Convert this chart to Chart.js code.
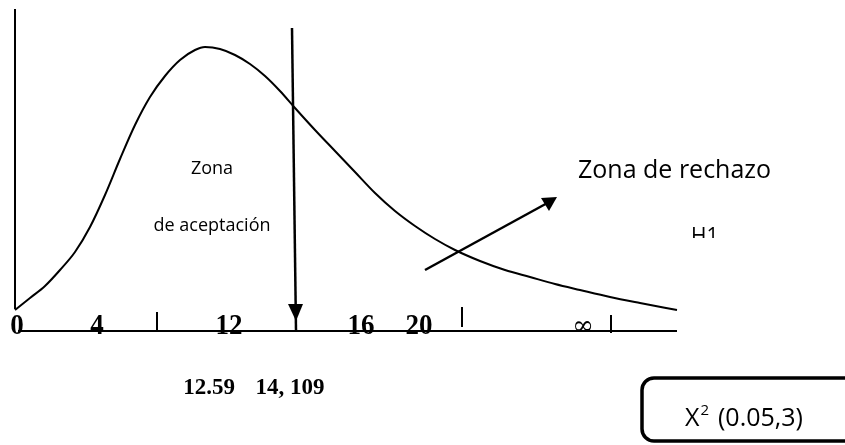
<!DOCTYPE html>
<html>
<head>
<meta charset="utf-8">
<script src="https://cdn.jsdelivr.net/npm/chart.js@4.4.1/dist/chart.umd.min.js"></script>
<style>
  html, body { margin: 0; padding: 0; background: #fff; }
  #wrap { width: 845px; height: 445px; }
</style>
</head>
<body>
<div id="wrap"><canvas id="chi" width="845" height="445"></canvas></div>
<script>
// curva chi-cuadrado (unidades del lienzo)
const curveX = [15, 30, 45, 60, 75, 90, 105, 120, 135, 150, 165, 180, 195, 205, 220, 235, 250, 265, 280, 295, 315, 335, 355, 375, 395, 415, 435, 455, 480, 505, 530, 555, 580, 610, 640, 677];
const curveY = [310, 298, 286, 270, 252, 227, 195, 159, 125, 97, 76, 60, 50, 47, 49, 55, 64, 76, 91, 108, 130, 151, 172, 193, 211, 226, 239, 250, 261, 270, 277, 284, 290, 297, 303, 310];

// etiquetas del eje
const axisLabels = ["0", "4", "12", "16", "20", "\u221E"];
const axisLabelX = [17, 97, 229, 361, 419, 583];

// marcas del eje [x, yArriba, yAbajo]
const tickX = [157, 462, 611];
const tickTop = [312, 307, 315];
const tickBottom = [331, 327, 333];

// valores críticos
const criticalLabels = ["12.59", "14, 109"];
const criticalX = [209, 290];

const black = "#000";

function seg(x1, y1, x2, y2) {
    return [{ x: x1, y: y1 }, { x: x2, y: y2 }];
}

const lineDs = (data, width, id) => ({
    id: id,
    data: data,
    showLine: true,
    borderColor: black,
    borderWidth: width,
    pointRadius: 0,
    fill: false
});

const datasets = [
    Object.assign(lineDs(curveX.map((x, i) => ({ x: x, y: curveY[i] })), 2, "curve"), { cubicInterpolationMode: "monotone" }),
    lineDs(seg(15, 9, 15, 309), 2, "yaxis"),
    lineDs(seg(18, 331, 677, 331), 2, "xaxis"),
    lineDs(seg(292, 28, 296, 331), 2.5, "critArrow"),
    lineDs(seg(425, 270, 551, 201), 2.5, "rejArrow")
];
tickX.forEach((x, i) => datasets.push(lineDs(seg(x, tickTop[i], x, tickBottom[i]), 2, "tick" + i)));

const annotations = {
    id: "annotations",
    afterDatasetsDraw(chart) {
        const { ctx, scales: { x, y } } = chart;
        const px = v => x.getPixelForValue(v);
        const py = v => y.getPixelForValue(v);
        ctx.save();
        ctx.fillStyle = black;
        ctx.strokeStyle = black;

        // punta de la flecha del valor crítico
        ctx.beginPath();
        ctx.moveTo(px(288), py(304));
        ctx.lineTo(px(303), py(304));
        ctx.lineTo(px(296), py(321));
        ctx.closePath();
        ctx.fill();

        // punta de la flecha de la zona de rechazo
        ctx.beginPath();
        ctx.moveTo(px(557), py(197));
        ctx.lineTo(px(541), py(198));
        ctx.lineTo(px(549), py(211));
        ctx.closePath();
        ctx.fill();

        // etiquetas del eje (serif negrita, algo estirada en vertical)
        ctx.textAlign = "center";
        ctx.textBaseline = "alphabetic";
        axisLabels.forEach((t, i) => {
            ctx.save();
            ctx.translate(px(axisLabelX[i]), py(334));
            if (t === "\u221E") {
                ctx.font = "26px 'DejaVu Serif'";
                ctx.fillText(t, 0, 0);
            } else {
                ctx.scale(1, 1.12);
                ctx.font = "bold 27px 'Liberation Serif'";
                ctx.fillText(t, 0, 0);
            }
            ctx.restore();
        });

        ctx.font = "bold 23px 'Liberation Serif'";
        criticalLabels.forEach((t, i) => ctx.fillText(t, px(criticalX[i]), py(394)));

        // textos de zonas
        ctx.font = "18px 'Open Sans'";
        ctx.fillText("Zona", px(212), py(174));
        ctx.fillText("de aceptación", px(212), py(231));

        ctx.textAlign = "left";
        ctx.font = "25px 'Open Sans'";
        ctx.fillText("Zona de rechazo", px(578), py(178));

        // H1 recortado (solo se ve la mitad superior)
        ctx.save();
        ctx.beginPath();
        ctx.rect(px(680), py(220), 60, py(238) - py(220));
        ctx.clip();
        ctx.font = "21px 'Open Sans'";
        ctx.fillText("H1", px(691), py(243));
        ctx.restore();

        // recuadro X²
        ctx.lineWidth = 3.5;
        ctx.beginPath();
        ctx.roundRect(px(642), py(378), 230, py(441) - py(378), 12);
        ctx.stroke();
        ctx.font = "25px 'Open Sans'";
        ctx.fillText("X", px(685), py(426));
        const wX = ctx.measureText("X").width;
        ctx.font = "15px 'Open Sans'";
        ctx.fillText("2", px(685) + wX + 1, py(415));
        ctx.font = "25px 'Open Sans'";
        ctx.fillText("(0.05,3)", px(718), py(426));
        ctx.restore();
    }
};

new Chart(document.getElementById("chi"), {
    type: "scatter",
    data: { datasets: datasets },
    options: {
        responsive: false,
        animation: false,
        layout: { padding: 0 },
        plugins: { legend: { display: false }, tooltip: { enabled: false } },
        scales: {
            x: { type: "linear", min: 0, max: 845, display: false },
            y: { type: "linear", min: 0, max: 445, reverse: true, display: false }
        }
    },
    plugins: [annotations]
});
</script>
</body>
</html>
